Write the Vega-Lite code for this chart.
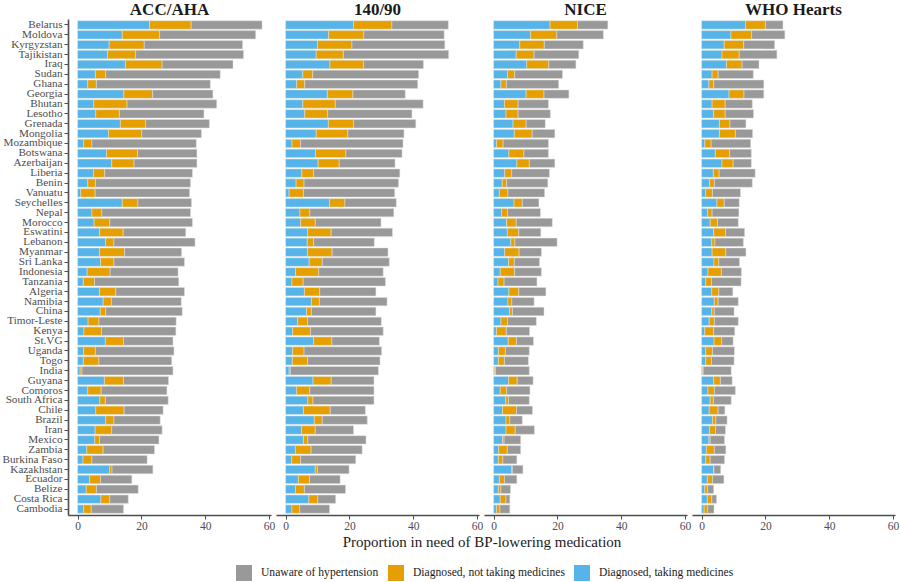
{
"$schema": "https://vega.github.io/schema/vega-lite/v6.json",
"background": "white",
"padding": {"left": 2, "right": 2, "top": 1, "bottom": 2},
"datasets": {
"status": [
{"key": "taking", "rank": 1, "status": "Diagnosed, taking medicines"},
{"key": "notTaking", "rank": 2, "status": "Diagnosed, not taking medicines"},
{"key": "unaware", "rank": 3, "status": "Unaware of hypertension"}
]
},
"data": {"values": [
{"c":"Belarus","g":"ACC/AHA","taking":22.6,"notTaking":13.0,"unaware":22.2},
{"c":"Moldova","g":"ACC/AHA","taking":14.0,"notTaking":11.7,"unaware":30.1},
{"c":"Kyrgyzstan","g":"ACC/AHA","taking":9.9,"notTaking":11.0,"unaware":30.8},
{"c":"Tajikistan","g":"ACC/AHA","taking":9.4,"notTaking":8.8,"unaware":33.8},
{"c":"Iraq","g":"ACC/AHA","taking":15.0,"notTaking":11.5,"unaware":22.2},
{"c":"Sudan","g":"ACC/AHA","taking":5.6,"notTaking":3.2,"unaware":35.9},
{"c":"Ghana","g":"ACC/AHA","taking":3.2,"notTaking":2.7,"unaware":35.7},
{"c":"Georgia","g":"ACC/AHA","taking":14.5,"notTaking":9.0,"unaware":18.9},
{"c":"Bhutan","g":"ACC/AHA","taking":5.1,"notTaking":10.4,"unaware":28.1},
{"c":"Lesotho","g":"ACC/AHA","taking":5.7,"notTaking":7.4,"unaware":26.5},
{"c":"Grenada","g":"ACC/AHA","taking":13.4,"notTaking":7.9,"unaware":20.0},
{"c":"Mongolia","g":"ACC/AHA","taking":9.7,"notTaking":10.4,"unaware":18.7},
{"c":"Mozambique","g":"ACC/AHA","taking":1.9,"notTaking":2.6,"unaware":32.7},
{"c":"Botswana","g":"ACC/AHA","taking":9.1,"notTaking":9.7,"unaware":18.6},
{"c":"Azerbaijan","g":"ACC/AHA","taking":10.7,"notTaking":7.0,"unaware":19.7},
{"c":"Liberia","g":"ACC/AHA","taking":5.0,"notTaking":3.5,"unaware":27.5},
{"c":"Benin","g":"ACC/AHA","taking":3.2,"notTaking":2.4,"unaware":29.8},
{"c":"Vanuatu","g":"ACC/AHA","taking":1.0,"notTaking":4.5,"unaware":29.6},
{"c":"Seychelles","g":"ACC/AHA","taking":14.0,"notTaking":4.9,"unaware":16.8},
{"c":"Nepal","g":"ACC/AHA","taking":4.5,"notTaking":3.1,"unaware":27.8},
{"c":"Morocco","g":"ACC/AHA","taking":5.2,"notTaking":4.9,"unaware":25.9},
{"c":"Eswatini","g":"ACC/AHA","taking":6.9,"notTaking":7.4,"unaware":19.6},
{"c":"Lebanon","g":"ACC/AHA","taking":8.8,"notTaking":2.6,"unaware":25.4},
{"c":"Myanmar","g":"ACC/AHA","taking":6.9,"notTaking":7.8,"unaware":17.9},
{"c":"Sri Lanka","g":"ACC/AHA","taking":7.2,"notTaking":4.2,"unaware":22.1},
{"c":"Indonesia","g":"ACC/AHA","taking":3.0,"notTaking":7.2,"unaware":21.3},
{"c":"Tanzania","g":"ACC/AHA","taking":1.8,"notTaking":3.5,"unaware":26.4},
{"c":"Algeria","g":"ACC/AHA","taking":6.9,"notTaking":5.1,"unaware":21.5},
{"c":"Namibia","g":"ACC/AHA","taking":8.0,"notTaking":2.6,"unaware":21.9},
{"c":"China","g":"ACC/AHA","taking":7.1,"notTaking":1.7,"unaware":24.0},
{"c":"Timor-Leste","g":"ACC/AHA","taking":3.3,"notTaking":3.4,"unaware":24.2},
{"c":"Kenya","g":"ACC/AHA","taking":2.0,"notTaking":5.5,"unaware":23.3},
{"c":"St.VG","g":"ACC/AHA","taking":8.7,"notTaking":5.7,"unaware":15.5},
{"c":"Uganda","g":"ACC/AHA","taking":1.9,"notTaking":3.7,"unaware":24.6},
{"c":"Togo","g":"ACC/AHA","taking":1.8,"notTaking":4.9,"unaware":22.8},
{"c":"India","g":"ACC/AHA","taking":0.8,"notTaking":0.6,"unaware":28.5},
{"c":"Guyana","g":"ACC/AHA","taking":8.4,"notTaking":6.0,"unaware":14.1},
{"c":"Comoros","g":"ACC/AHA","taking":3.2,"notTaking":4.2,"unaware":20.6},
{"c":"South Africa","g":"ACC/AHA","taking":7.0,"notTaking":1.7,"unaware":19.7},
{"c":"Chile","g":"ACC/AHA","taking":5.7,"notTaking":8.9,"unaware":12.2},
{"c":"Brazil","g":"ACC/AHA","taking":8.8,"notTaking":2.6,"unaware":14.5},
{"c":"Iran","g":"ACC/AHA","taking":5.5,"notTaking":5.2,"unaware":15.8},
{"c":"Mexico","g":"ACC/AHA","taking":5.4,"notTaking":1.5,"unaware":18.6},
{"c":"Zambia","g":"ACC/AHA","taking":2.9,"notTaking":5.1,"unaware":16.1},
{"c":"Burkina Faso","g":"ACC/AHA","taking":1.7,"notTaking":2.8,"unaware":17.3},
{"c":"Kazakhstan","g":"ACC/AHA","taking":10.0,"notTaking":0.8,"unaware":12.8},
{"c":"Ecuador","g":"ACC/AHA","taking":3.8,"notTaking":3.4,"unaware":9.8},
{"c":"Belize","g":"ACC/AHA","taking":2.7,"notTaking":3.2,"unaware":13.1},
{"c":"Costa Rica","g":"ACC/AHA","taking":7.3,"notTaking":2.8,"unaware":5.8},
{"c":"Cambodia","g":"ACC/AHA","taking":1.9,"notTaking":2.4,"unaware":10.1},
{"c":"Belarus","g":"140/90","taking":21.3,"notTaking":12.0,"unaware":17.7},
{"c":"Moldova","g":"140/90","taking":13.5,"notTaking":11.0,"unaware":25.2},
{"c":"Kyrgyzstan","g":"140/90","taking":10.0,"notTaking":10.8,"unaware":29.1},
{"c":"Tajikistan","g":"140/90","taking":9.6,"notTaking":8.5,"unaware":33.0},
{"c":"Iraq","g":"140/90","taking":13.9,"notTaking":10.5,"unaware":18.8},
{"c":"Sudan","g":"140/90","taking":5.4,"notTaking":3.1,"unaware":33.2},
{"c":"Ghana","g":"140/90","taking":3.5,"notTaking":2.5,"unaware":35.4},
{"c":"Georgia","g":"140/90","taking":13.1,"notTaking":8.0,"unaware":16.4},
{"c":"Bhutan","g":"140/90","taking":5.4,"notTaking":10.2,"unaware":27.5},
{"c":"Lesotho","g":"140/90","taking":6.0,"notTaking":7.2,"unaware":26.4},
{"c":"Grenada","g":"140/90","taking":13.4,"notTaking":7.9,"unaware":19.5},
{"c":"Mongolia","g":"140/90","taking":9.6,"notTaking":9.9,"unaware":17.6},
{"c":"Mozambique","g":"140/90","taking":2.0,"notTaking":2.7,"unaware":32.1},
{"c":"Botswana","g":"140/90","taking":9.4,"notTaking":9.5,"unaware":17.6},
{"c":"Azerbaijan","g":"140/90","taking":10.2,"notTaking":6.6,"unaware":17.5},
{"c":"Liberia","g":"140/90","taking":5.1,"notTaking":3.7,"unaware":27.0},
{"c":"Benin","g":"140/90","taking":3.3,"notTaking":2.5,"unaware":29.6},
{"c":"Vanuatu","g":"140/90","taking":1.1,"notTaking":4.5,"unaware":28.6},
{"c":"Seychelles","g":"140/90","taking":13.8,"notTaking":4.8,"unaware":16.1},
{"c":"Nepal","g":"140/90","taking":4.5,"notTaking":3.1,"unaware":26.3},
{"c":"Morocco","g":"140/90","taking":4.7,"notTaking":4.6,"unaware":20.6},
{"c":"Eswatini","g":"140/90","taking":6.9,"notTaking":7.4,"unaware":19.2},
{"c":"Lebanon","g":"140/90","taking":6.8,"notTaking":2.0,"unaware":19.0},
{"c":"Myanmar","g":"140/90","taking":6.9,"notTaking":7.7,"unaware":17.5},
{"c":"Sri Lanka","g":"140/90","taking":7.4,"notTaking":4.1,"unaware":21.0},
{"c":"Indonesia","g":"140/90","taking":3.1,"notTaking":7.3,"unaware":20.2},
{"c":"Tanzania","g":"140/90","taking":2.0,"notTaking":3.5,"unaware":25.8},
{"c":"Algeria","g":"140/90","taking":5.9,"notTaking":4.8,"unaware":17.6},
{"c":"Namibia","g":"140/90","taking":8.1,"notTaking":2.5,"unaware":21.2},
{"c":"China","g":"140/90","taking":6.6,"notTaking":1.5,"unaware":20.2},
{"c":"Timor-Leste","g":"140/90","taking":3.8,"notTaking":3.1,"unaware":23.1},
{"c":"Kenya","g":"140/90","taking":2.2,"notTaking":5.6,"unaware":22.8},
{"c":"St.VG","g":"140/90","taking":8.8,"notTaking":5.7,"unaware":14.9},
{"c":"Uganda","g":"140/90","taking":2.2,"notTaking":3.6,"unaware":24.3},
{"c":"Togo","g":"140/90","taking":2.1,"notTaking":4.8,"unaware":22.7},
{"c":"India","g":"140/90","taking":1.1,"notTaking":0.4,"unaware":27.6},
{"c":"Guyana","g":"140/90","taking":8.6,"notTaking":5.7,"unaware":13.4},
{"c":"Comoros","g":"140/90","taking":3.4,"notTaking":4.2,"unaware":20.1},
{"c":"South Africa","g":"140/90","taking":7.0,"notTaking":1.6,"unaware":19.1},
{"c":"Chile","g":"140/90","taking":5.6,"notTaking":8.4,"unaware":11.0},
{"c":"Brazil","g":"140/90","taking":9.0,"notTaking":2.5,"unaware":14.1},
{"c":"Iran","g":"140/90","taking":5.0,"notTaking":4.3,"unaware":12.0},
{"c":"Mexico","g":"140/90","taking":5.6,"notTaking":1.4,"unaware":18.2},
{"c":"Zambia","g":"140/90","taking":3.1,"notTaking":4.9,"unaware":16.0},
{"c":"Burkina Faso","g":"140/90","taking":1.9,"notTaking":2.8,"unaware":17.3},
{"c":"Kazakhstan","g":"140/90","taking":9.3,"notTaking":0.7,"unaware":9.9},
{"c":"Ecuador","g":"140/90","taking":4.0,"notTaking":3.5,"unaware":9.6},
{"c":"Belize","g":"140/90","taking":3.1,"notTaking":2.8,"unaware":12.9},
{"c":"Costa Rica","g":"140/90","taking":7.3,"notTaking":2.8,"unaware":5.6},
{"c":"Cambodia","g":"140/90","taking":2.0,"notTaking":2.4,"unaware":9.4},
{"c":"Belarus","g":"NICE","taking":17.7,"notTaking":8.6,"unaware":9.5},
{"c":"Moldova","g":"NICE","taking":11.6,"notTaking":8.2,"unaware":14.6},
{"c":"Kyrgyzstan","g":"NICE","taking":8.2,"notTaking":7.7,"unaware":12.2},
{"c":"Tajikistan","g":"NICE","taking":7.1,"notTaking":5.6,"unaware":14.0},
{"c":"Iraq","g":"NICE","taking":10.4,"notTaking":6.9,"unaware":8.5},
{"c":"Sudan","g":"NICE","taking":4.4,"notTaking":2.2,"unaware":15.0},
{"c":"Ghana","g":"NICE","taking":2.3,"notTaking":1.7,"unaware":16.4},
{"c":"Georgia","g":"NICE","taking":10.2,"notTaking":5.6,"unaware":7.8},
{"c":"Bhutan","g":"NICE","taking":3.4,"notTaking":4.3,"unaware":9.5},
{"c":"Lesotho","g":"NICE","taking":3.9,"notTaking":3.8,"unaware":10.1},
{"c":"Grenada","g":"NICE","taking":6.1,"notTaking":4.1,"unaware":6.0},
{"c":"Mongolia","g":"NICE","taking":6.5,"notTaking":5.6,"unaware":7.1},
{"c":"Mozambique","g":"NICE","taking":0.9,"notTaking":2.1,"unaware":14.2},
{"c":"Botswana","g":"NICE","taking":4.8,"notTaking":4.7,"unaware":7.7},
{"c":"Azerbaijan","g":"NICE","taking":7.3,"notTaking":3.9,"unaware":8.0},
{"c":"Liberia","g":"NICE","taking":3.5,"notTaking":2.2,"unaware":11.8},
{"c":"Benin","g":"NICE","taking":2.7,"notTaking":1.4,"unaware":12.9},
{"c":"Vanuatu","g":"NICE","taking":1.8,"notTaking":2.7,"unaware":11.5},
{"c":"Seychelles","g":"NICE","taking":6.4,"notTaking":2.6,"unaware":5.2},
{"c":"Nepal","g":"NICE","taking":2.5,"notTaking":1.9,"unaware":10.3},
{"c":"Morocco","g":"NICE","taking":4.1,"notTaking":3.0,"unaware":11.3},
{"c":"Eswatini","g":"NICE","taking":4.3,"notTaking":3.6,"unaware":6.9},
{"c":"Lebanon","g":"NICE","taking":5.4,"notTaking":1.3,"unaware":13.2},
{"c":"Myanmar","g":"NICE","taking":3.5,"notTaking":4.5,"unaware":7.0},
{"c":"Sri Lanka","g":"NICE","taking":4.7,"notTaking":1.8,"unaware":7.9},
{"c":"Indonesia","g":"NICE","taking":2.1,"notTaking":4.5,"unaware":8.4},
{"c":"Tanzania","g":"NICE","taking":1.4,"notTaking":1.9,"unaware":10.3},
{"c":"Algeria","g":"NICE","taking":4.8,"notTaking":3.1,"unaware":8.5},
{"c":"Namibia","g":"NICE","taking":4.5,"notTaking":1.2,"unaware":7.0},
{"c":"China","g":"NICE","taking":5.0,"notTaking":0.9,"unaware":9.9},
{"c":"Timor-Leste","g":"NICE","taking":2.3,"notTaking":2.1,"unaware":9.0},
{"c":"Kenya","g":"NICE","taking":0.9,"notTaking":3.1,"unaware":7.3},
{"c":"St.VG","g":"NICE","taking":4.6,"notTaking":2.6,"unaware":5.3},
{"c":"Uganda","g":"NICE","taking":1.5,"notTaking":2.2,"unaware":7.5},
{"c":"Togo","g":"NICE","taking":1.5,"notTaking":1.9,"unaware":7.5},
{"c":"India","g":"NICE","taking":0.3,"notTaking":0.3,"unaware":10.6},
{"c":"Guyana","g":"NICE","taking":4.7,"notTaking":2.7,"unaware":5.0},
{"c":"Comoros","g":"NICE","taking":2.1,"notTaking":2.0,"unaware":7.3},
{"c":"South Africa","g":"NICE","taking":3.8,"notTaking":0.9,"unaware":6.5},
{"c":"Chile","g":"NICE","taking":2.8,"notTaking":4.4,"unaware":5.0},
{"c":"Brazil","g":"NICE","taking":3.9,"notTaking":1.2,"unaware":3.9},
{"c":"Iran","g":"NICE","taking":3.9,"notTaking":2.9,"unaware":6.0},
{"c":"Mexico","g":"NICE","taking":2.8,"notTaking":0.5,"unaware":5.2},
{"c":"Zambia","g":"NICE","taking":1.6,"notTaking":2.7,"unaware":4.2},
{"c":"Burkina Faso","g":"NICE","taking":1.5,"notTaking":1.4,"unaware":4.4},
{"c":"Kazakhstan","g":"NICE","taking":5.7,"notTaking":0.2,"unaware":3.3},
{"c":"Ecuador","g":"NICE","taking":1.8,"notTaking":1.6,"unaware":3.9},
{"c":"Belize","g":"NICE","taking":1.5,"notTaking":0.8,"unaware":3.0},
{"c":"Costa Rica","g":"NICE","taking":2.1,"notTaking":1.8,"unaware":1.2},
{"c":"Cambodia","g":"NICE","taking":0.9,"notTaking":1.1,"unaware":3.1},
{"c":"Belarus","g":"WHO Hearts","taking":13.8,"notTaking":6.2,"unaware":5.5},
{"c":"Moldova","g":"WHO Hearts","taking":9.2,"notTaking":6.5,"unaware":10.4},
{"c":"Kyrgyzstan","g":"WHO Hearts","taking":7.1,"notTaking":6.1,"unaware":9.7},
{"c":"Tajikistan","g":"WHO Hearts","taking":6.4,"notTaking":5.4,"unaware":11.8},
{"c":"Iraq","g":"WHO Hearts","taking":7.8,"notTaking":4.9,"unaware":5.3},
{"c":"Sudan","g":"WHO Hearts","taking":3.3,"notTaking":1.9,"unaware":11.0},
{"c":"Ghana","g":"WHO Hearts","taking":2.3,"notTaking":1.5,"unaware":15.7},
{"c":"Georgia","g":"WHO Hearts","taking":8.6,"notTaking":4.7,"unaware":6.2},
{"c":"Bhutan","g":"WHO Hearts","taking":3.3,"notTaking":4.1,"unaware":8.5},
{"c":"Lesotho","g":"WHO Hearts","taking":3.8,"notTaking":3.6,"unaware":8.9},
{"c":"Grenada","g":"WHO Hearts","taking":5.6,"notTaking":3.3,"unaware":5.0},
{"c":"Mongolia","g":"WHO Hearts","taking":5.6,"notTaking":5.0,"unaware":5.4},
{"c":"Mozambique","g":"WHO Hearts","taking":1.0,"notTaking":2.0,"unaware":12.4},
{"c":"Botswana","g":"WHO Hearts","taking":4.3,"notTaking":4.5,"unaware":6.8},
{"c":"Azerbaijan","g":"WHO Hearts","taking":6.4,"notTaking":3.5,"unaware":5.7},
{"c":"Liberia","g":"WHO Hearts","taking":3.7,"notTaking":1.8,"unaware":11.3},
{"c":"Benin","g":"WHO Hearts","taking":2.5,"notTaking":1.5,"unaware":11.9},
{"c":"Vanuatu","g":"WHO Hearts","taking":1.3,"notTaking":2.1,"unaware":8.8},
{"c":"Seychelles","g":"WHO Hearts","taking":4.8,"notTaking":2.3,"unaware":4.7},
{"c":"Nepal","g":"WHO Hearts","taking":1.9,"notTaking":1.4,"unaware":8.4},
{"c":"Morocco","g":"WHO Hearts","taking":2.7,"notTaking":2.3,"unaware":6.5},
{"c":"Eswatini","g":"WHO Hearts","taking":3.8,"notTaking":3.7,"unaware":6.0},
{"c":"Lebanon","g":"WHO Hearts","taking":3.2,"notTaking":1.0,"unaware":8.9},
{"c":"Myanmar","g":"WHO Hearts","taking":3.3,"notTaking":4.3,"unaware":6.3},
{"c":"Sri Lanka","g":"WHO Hearts","taking":3.9,"notTaking":1.5,"unaware":6.5},
{"c":"Indonesia","g":"WHO Hearts","taking":2.0,"notTaking":4.2,"unaware":6.3},
{"c":"Tanzania","g":"WHO Hearts","taking":1.3,"notTaking":1.8,"unaware":9.3},
{"c":"Algeria","g":"WHO Hearts","taking":3.2,"notTaking":2.2,"unaware":4.4},
{"c":"Namibia","g":"WHO Hearts","taking":4.0,"notTaking":1.2,"unaware":6.3},
{"c":"China","g":"WHO Hearts","taking":3.2,"notTaking":0.8,"unaware":6.2},
{"c":"Timor-Leste","g":"WHO Hearts","taking":2.4,"notTaking":1.6,"unaware":7.5},
{"c":"Kenya","g":"WHO Hearts","taking":1.0,"notTaking":2.8,"unaware":6.6},
{"c":"St.VG","g":"WHO Hearts","taking":3.9,"notTaking":2.4,"unaware":3.6},
{"c":"Uganda","g":"WHO Hearts","taking":1.3,"notTaking":2.1,"unaware":6.9},
{"c":"Togo","g":"WHO Hearts","taking":1.3,"notTaking":1.8,"unaware":7.1},
{"c":"India","g":"WHO Hearts","taking":0.3,"notTaking":0.2,"unaware":8.8},
{"c":"Guyana","g":"WHO Hearts","taking":3.8,"notTaking":2.1,"unaware":3.7},
{"c":"Comoros","g":"WHO Hearts","taking":2.0,"notTaking":2.0,"unaware":6.6},
{"c":"South Africa","g":"WHO Hearts","taking":2.7,"notTaking":1.0,"unaware":5.6},
{"c":"Chile","g":"WHO Hearts","taking":2.4,"notTaking":2.8,"unaware":2.1},
{"c":"Brazil","g":"WHO Hearts","taking":3.4,"notTaking":1.1,"unaware":3.5},
{"c":"Iran","g":"WHO Hearts","taking":2.5,"notTaking":1.9,"unaware":3.1},
{"c":"Mexico","g":"WHO Hearts","taking":2.3,"notTaking":0.4,"unaware":4.5},
{"c":"Zambia","g":"WHO Hearts","taking":1.5,"notTaking":2.5,"unaware":3.6},
{"c":"Burkina Faso","g":"WHO Hearts","taking":1.3,"notTaking":1.4,"unaware":4.5},
{"c":"Kazakhstan","g":"WHO Hearts","taking":3.8,"notTaking":0.1,"unaware":2.1},
{"c":"Ecuador","g":"WHO Hearts","taking":1.8,"notTaking":1.6,"unaware":3.6},
{"c":"Belize","g":"WHO Hearts","taking":1.0,"notTaking":0.9,"unaware":1.9},
{"c":"Costa Rica","g":"WHO Hearts","taking":1.8,"notTaking":1.4,"unaware":1.5},
{"c":"Cambodia","g":"WHO Hearts","taking":0.8,"notTaking":1.1,"unaware":2.0}
]},
"transform": [
{"fold": ["taking", "notTaking", "unaware"], "as": ["key", "value"]},
{"lookup": "key", "from": {"data": {"name": "status"}, "key": "key", "fields": ["rank", "status"]}}
],
"facet": {
"column": {
"field": "g", "type": "nominal",
"sort": ["ACC/AHA", "140/90", "NICE", "WHO Hearts"],
"title": "Proportion in need of BP-lowering medication",
"header": {"titleOrient": "bottom", "labelOrient": "top", "titleFont": "Liberation Serif", "titleFontSize": 15, "titleFontWeight": "normal", "titleColor": "#1a1a1a", "titlePadding": -7, "labelFont": "Liberation Serif", "labelFontSize": 17, "labelFontWeight": "bold", "labelColor": "#1a1a1a", "labelPadding": 0}
}
},
"spacing": 5,
"spec": {
"width": 203,
"height": 496,
"mark": {"type": "bar", "stroke": "#e3e3e3", "strokeWidth": 0.5},
"encoding": {
"y": {
"field": "c", "type": "nominal", "sort": null,
"scale": {"paddingInner": 0.15, "paddingOuter": 0.175},
"axis": {"title": null, "labelFontSize": 11.2, "labelPadding": 2, "ticks": true, "tickSize": 4}
},
"x": {
"field": "value", "type": "quantitative", "stack": "zero",
"scale": {"domain": [-3, 60.6], "nice": false, "zero": false},
"axis": {"values": [0, 20, 40, 60], "title": null, "tickSize": 4, "labelPadding": 1}
},
"color": {
"field": "status", "type": "nominal",
"scale": {"domain": ["Unaware of hypertension", "Diagnosed, not taking medicines", "Diagnosed, taking medicines"], "range": ["#999999", "#E69F00", "#56B4E9"]},
"legend": {"title": null, "orient": "none", "legendX": 168, "legendY": 546, "direction": "horizontal", "symbolType": "square", "symbolSize": 256, "symbolStrokeWidth": 0, "labelFont": "Liberation Serif", "labelFontSize": 11.6, "labelColor": "#1a1a1a", "labelLimit": 300, "labelOffset": 9, "columnPadding": 9}
},
"order": {"field": "rank", "type": "quantitative", "sort": "ascending"}
}
},
"config": {
"font": "Liberation Serif",
"view": {"stroke": null},
"axis": {
"labelFont": "Liberation Serif", "titleFont": "Liberation Serif",
"labelColor": "#4d4d4d", "labelFontSize": 11.5,
"titleFontSize": 15, "titleFontWeight": "normal", "titleColor": "#1a1a1a",
"domainColor": "#4d4d4d", "domainWidth": 1.6, "tickColor": "#4d4d4d", "tickWidth": 1, "grid": false
}
}
}
